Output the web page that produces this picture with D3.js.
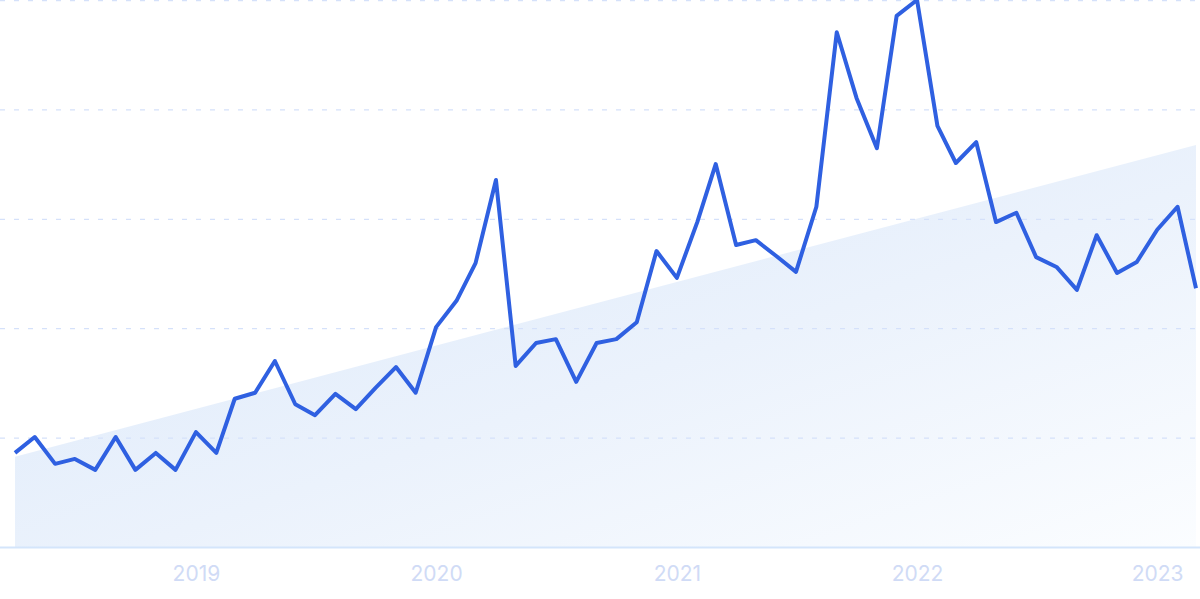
<!DOCTYPE html>
<html>
<head>
<meta charset="utf-8">
<script src="https://cdn.jsdelivr.net/npm/d3@7"></script>
<style>
  html, body { margin: 0; padding: 0; background: #ffffff; }
  svg { display: block; }
</style>
</head>
<body>
<div id="chart"></div>
<script>
// ---- data ----
const startMonth = "2018-04";
const values = [
  17.2, 20.1, 15.2, 16.1, 14.1, 20.1, 14.1, 17.2, 14.1, 21.0,
  17.2, 27.1, 28.2, 34.0, 26.1, 24.1, 28.0, 25.2, 29.1, 32.9,
  28.2, 40.2, 45.0, 51.9, 67.1, 33.1, 37.3, 38.0, 30.2, 37.3,
  38.0, 41.1, 54.1, 49.2, 59.4, 70.0, 55.2, 56.1, 53.2, 50.3,
  62.2, 94.1, 82.1, 72.9, 97.1, 100, 77.0, 70.2, 74.0, 59.4,
  61.1, 53.0, 51.2, 47.0, 57.0, 50.1, 52.1, 58.0, 62.2, 47.3
];
const trendStart = 16.5;
const trendEnd = 73.5;
const gridValues = [20, 40, 60, 80, 100];
const yearTicks = ["2019", "2020", "2021", "2022", "2023"];

// ---- layout ----
const W = 1200, H = 599;
const margin = { left: 15, right: 4, top: 0, bottom: 52 };
const parse = d3.timeParse("%Y-%m");
const t0 = parse(startMonth);
const dates = values.map((v, i) => d3.timeMonth.offset(t0, i));
const data = values.map((v, i) => ({ date: dates[i], value: v }));

const svg = d3.select("#chart").append("svg")
  .attr("width", W).attr("height", H);

const x = d3.scaleTime()
  .domain([dates[0], dates[dates.length - 1]])
  .range([margin.left, W - margin.right]);
const y = d3.scaleLinear()
  .domain([0, 100])
  .range([H - margin.bottom, margin.top]);

const defs = svg.append("defs");
const grad = defs.append("linearGradient")
  .attr("id", "trendGrad")
  .attr("x1", "0%").attr("y1", "0%")
  .attr("x2", "100%").attr("y2", "100%");
grad.append("stop").attr("offset", "0%").attr("stop-color", "#dae8fa");
grad.append("stop").attr("offset", "55%").attr("stop-color", "#ebf2fc");
grad.append("stop").attr("offset", "100%").attr("stop-color", "#fbfdff");

// trend area
const trend = [
  { date: dates[0], value: trendStart },
  { date: dates[dates.length - 1], value: trendEnd }
];
svg.append("path")
  .datum(trend)
  .attr("fill", "url(#trendGrad)")
  .attr("d", d3.area()
    .x(d => x(d.date))
    .y0(y(0))
    .y1(d => y(d.value)));

// gridlines
svg.append("g")
  .selectAll("line")
  .data(gridValues)
  .join("line")
  .attr("x1", 0).attr("x2", W)
  .attr("y1", d => y(d) + 0.5).attr("y2", d => y(d) + 0.5)
  .attr("stroke", "#d5e1fa")
  .attr("stroke-width", 1.3)
  .attr("stroke-dasharray", "5,9");

// baseline
svg.append("line")
  .attr("x1", 0).attr("x2", W)
  .attr("y1", y(0) + 0.5).attr("y2", y(0) + 0.5)
  .attr("stroke", "#d4e5fb")
  .attr("stroke-width", 2);

// x axis labels
const xAxis = d3.axisBottom(x)
  .tickValues(yearTicks.map(s => d3.timeParse("%Y")(s)))
  .tickFormat(d3.timeFormat("%Y"))
  .tickSize(0)
  .tickPadding(19);
const ax = svg.append("g")
  .attr("transform", `translate(0,${y(0)})`)
  .call(xAxis);
ax.select(".domain").remove();
ax.selectAll("text")
  .attr("fill", "#d0dbf6")
  .style("font-family", "Inter, 'Noto Sans', sans-serif")
  .style("font-size", "21px");

// main line
svg.append("path")
  .datum(data)
  .attr("fill", "none")
  .attr("stroke", "#2f60e1")
  .attr("stroke-width", 4)
  .attr("stroke-linejoin", "round")
  .attr("stroke-linecap", "butt")
  .attr("d", d3.line()
    .x(d => x(d.date))
    .y(d => y(d.value)));
</script>
</body>
</html>
